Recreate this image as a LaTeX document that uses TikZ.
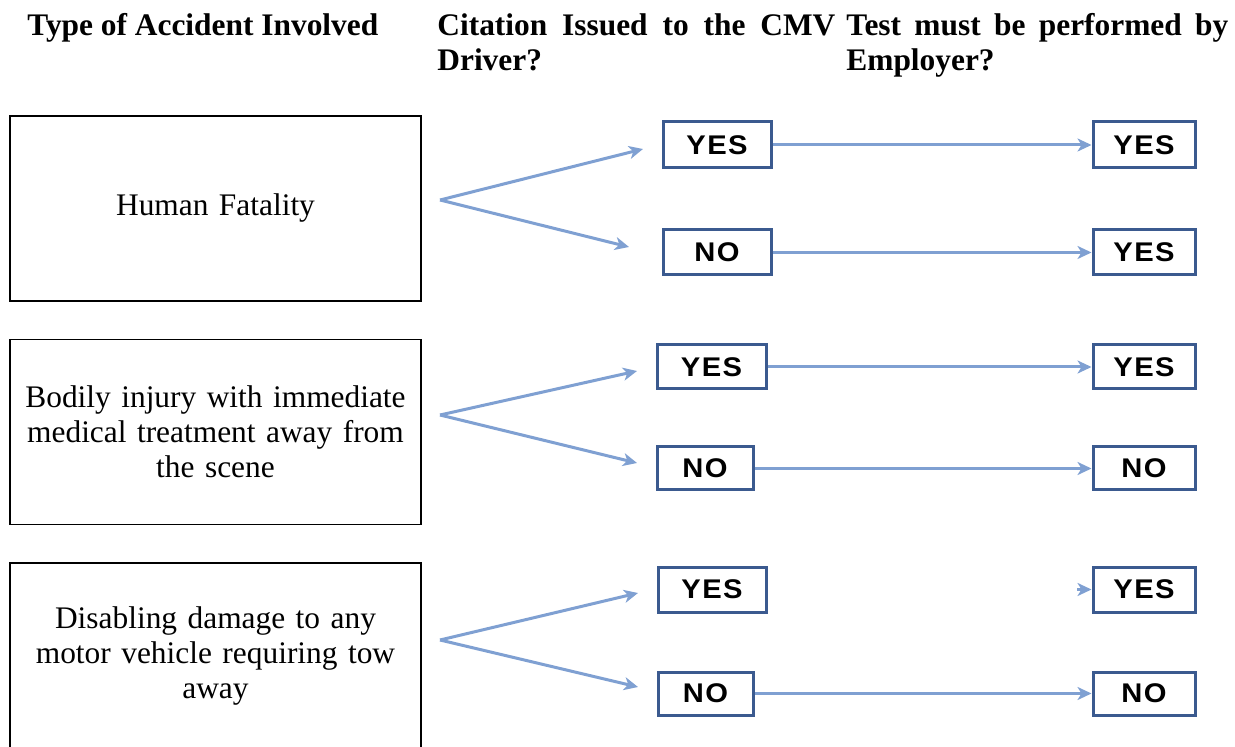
\documentclass[tikz,border=0pt]{standalone}
\usepackage{fontspec}
\setmainfont{Liberation Serif}
\newfontfamily\answerfont{Liberation Sans}[LetterSpace=5,FakeStretch=1.08]
\usetikzlibrary{arrows.meta}
\definecolor{answerblue}{HTML}{3B5A8F}
\definecolor{flowblue}{HTML}{7FA0D2}

\begin{document}
\begin{tikzpicture}[x=0.5pt,y=-0.5pt,
    header/.style={font=\fontsize{15.7}{17.5}\selectfont\bfseries,inner sep=0,anchor=north west,align=justify},
    accident/.style={draw=black,line width=0.9pt,minimum width=205.5pt,minimum height=92.5pt,
        text width=198pt,align=center,font=\fontsize{15.7}{17.5}\selectfont},
    answer/.style={draw=answerblue,line width=1.5pt,inner sep=0,
        font=\answerfont\bfseries\fontsize{13.5}{13.5}\selectfont},
    flow/.style={draw=flowblue,line width=1.5pt,-{Stealth[length=7pt,width=6.5pt,inset=2pt]}}
    ]
    \useasboundingbox (0,0) rectangle (1235,747);
    \clip (0,0) rectangle (1235,747);

    % column headers
    \node[header,text width=199pt] (hType) at (27,13) {Type of Accident Involved};
    \node[header,text width=199pt] (hCite) at (437,13) {Citation Issued to the CMV Driver?};
    \node[header,text width=191pt] (hTest) at (846,13) {Test must be performed by Employer?};

    % accident types
    \node[accident] (fatal) at (215.5,208.5) {Human Fatality};
    \node[accident] (injury) at (215.5,432) {Bodily injury with immediate\\medical treatment away from\\the scene};
    \node[accident] (damage) at (215.5,655.5) {Disabling damage to any\\motor vehicle requiring tow\\away};

    % citation issued?
    \node[answer,minimum width=54pt,minimum height=23pt] (c1y) at (717,145) {YES};
    \node[answer,minimum width=54pt,minimum height=22.5pt] (c1n) at (717,252.5) {NO};
    \node[answer,minimum width=54.5pt,minimum height=22pt] (c2y) at (711.5,367) {YES};
    \node[answer,minimum width=48pt,minimum height=21.5pt] (c2n) at (705,468.5) {NO};
    \node[answer,minimum width=54pt,minimum height=22.5pt] (c3y) at (712,589.5) {YES};
    \node[answer,minimum width=47.5pt,minimum height=21.5pt] (c3n) at (705.5,693.5) {NO};

    % test by employer?
    \node[answer,minimum width=51pt,minimum height=23pt] (t1y) at (1144,145) {YES};
    \node[answer,minimum width=51pt,minimum height=22.5pt] (t1n) at (1144,252.5) {YES};
    \node[answer,minimum width=51pt,minimum height=22pt] (t2y) at (1144,367) {YES};
    \node[answer,minimum width=51pt,minimum height=21.5pt] (t2n) at (1144,468.5) {NO};
    \node[answer,minimum width=51pt,minimum height=22.5pt] (t3y) at (1144,589.5) {YES};
    \node[answer,minimum width=51pt,minimum height=21.5pt] (t3n) at (1144,693.5) {NO};

    % forks
    \coordinate (f1) at (440,200);
    \coordinate (f1y) at (643,149);
    \coordinate (f1n) at (629,247);
    \coordinate (f2) at (440,415);
    \coordinate (f2y) at (637,371);
    \coordinate (f2n) at (637,463);
    \coordinate (f3) at (440,640);
    \coordinate (f3y) at (638,593);
    \coordinate (f3n) at (638,687);
    \coordinate (stub) at (1077,589.5);

    \draw[flow] (f1) -- (f1y);
    \draw[flow] (f1) -- (f1n);
    \draw[flow] (f2) -- (f2y);
    \draw[flow] (f2) -- (f2n);
    \draw[flow] (f3) -- (f3y);
    \draw[flow] (f3) -- (f3n);

    \draw[flow] (c1y) -- (t1y);
    \draw[flow] (c1n) -- (t1n);
    \draw[flow] (c2y) -- (t2y);
    \draw[flow] (c2n) -- (t2n);
    \draw[flow] (stub) -- (t3y);
    \draw[flow] (c3n) -- (t3n);
\end{tikzpicture}
\end{document}
